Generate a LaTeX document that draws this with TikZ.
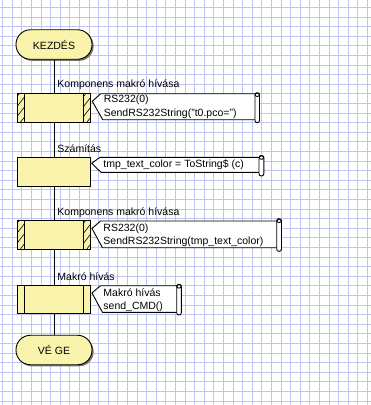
\documentclass[tikz,border=0pt]{standalone}
\usepackage{fontspec}
\setmainfont{Liberation Sans}
\usetikzlibrary{shadows}
\definecolor{gridblue}{RGB}{188,198,240}
\definecolor{boxyellow}{RGB}{250,243,172}
\tikzset{
  term/.style={draw,fill=boxyellow,rounded corners=14.5pt,minimum width=76pt,minimum height=29.5pt,inner sep=0pt,
    drop shadow={shadow xshift=1.6pt,shadow yshift=-1.6pt,fill=black!55,opacity=1}},
  proc/.style={draw,fill=boxyellow,minimum width=73.5pt,minimum height=28.5pt,inner sep=0pt},
  sidelines/.style={path picture={
      \draw ([xshift=7pt]path picture bounding box.north west) -- ([xshift=7pt]path picture bounding box.south west);
      \draw ([xshift=-7pt]path picture bounding box.north east) -- ([xshift=-7pt]path picture bounding box.south east);}},
  compmacro/.style={proc,sidelines,postaction={path picture={
      \begin{scope}[line width=0.6pt]
        \clip (path picture bounding box.south west) rectangle ([xshift=7pt]path picture bounding box.north west);
        \foreach \k in {0,...,3} \draw ([yshift=\k*10pt-4pt]path picture bounding box.south west) -- ++(7pt,9pt);
      \end{scope}
      \begin{scope}[line width=0.6pt]
        \clip (path picture bounding box.south east) rectangle ([xshift=-7pt]path picture bounding box.north east);
        \foreach \k in {0,...,3} \draw ([xshift=-7pt,yshift=\k*10pt-4pt]path picture bounding box.south east) -- ++(7pt,9pt);
      \end{scope}}}},
  lbl/.style={inner sep=0pt,anchor=base west},
  note/.style={inner sep=0pt,anchor=base west},
  bubble/.style={draw,fill=white},
  scrollend/.style={draw,fill=white,rounded corners=2.2pt}
}
\begin{document}
\begin{tikzpicture}[x=1pt,y=-1pt,font={\fontsize{10.5}{12}\selectfont},line width=0.9pt]
	%%Khung và lưới nền
	\useasboundingbox[fill=white] (0,0) rectangle (371,405);
	\foreach \k in {0,...,38}
		\draw[gridblue,line width=0.7pt] ({2.5+9.6*\k},0) -- ({2.5+9.6*\k},405);
	\foreach \k in {0,...,41}
		\draw[gridblue,line width=0.7pt] (0,{7.3+9.6*\k}) -- (371,{7.3+9.6*\k});
	%%Các khối
	\node[term] (start) at (54,44.5) {KEZDÉS};
	\node[compmacro] (komp1) at (54,108) {};
	\node[proc] (szam) at (54,171.7) {};
	\node[compmacro] (komp2) at (54,234.7) {};
	\node[proc,sidelines] (makro) at (54,299.5) {};
	\node[term] (vege) at (54,350) {VÉ GE};
	%%Đường nối
	\draw (start) -- (komp1);
	\draw (komp1) -- (szam);
	\draw (szam) -- (komp2);
	\draw (komp2) -- (makro);
	\draw (makro) -- (vege);
	%%Tên khối
	\node[lbl] (komp1l) at (57,87.4) {Komponens makró hívása};
	\node[lbl] (szaml) at (57,152.5) {Számítás};
	\node[lbl] (komp2l) at (57,215) {Komponens makró hívása};
	\node[lbl] (makrol) at (57,280.5) {Makró hívás};
	%%Chú thích
	\draw[bubble] (92.3,101.3) -- (100.7,93.7) -- (257,93.7) -- (257,119.7) -- (102.7,119.7) -- cycle;
	\draw[scrollend] (255,92.7) rectangle (259.5,122.7);
	\draw (257.25,94.8) ellipse (2.2pt and 1.7pt);
	\node[note] (komp1a) at (103.3,102.8) {RS232(0)};
	\node[note] (komp1b) at (103.3,116) {SendRS232String("t0.pco=")};
	\draw[bubble] (91.7,163.3) -- (100,157.3) -- (261,157.3) -- (261,172.3) -- (101,172.3) -- cycle;
	\draw[scrollend] (259,155.5) rectangle (263.8,176);
	\draw (261.4,157.6) ellipse (2.2pt and 1.7pt);
	\node[note] (szama) at (103,167.3) {tmp\_text\_color = ToString\$ (c)};
	\draw[bubble] (92,228.5) -- (100.5,221) -- (279,221) -- (279,247.7) -- (102.5,247.7) -- cycle;
	\draw[scrollend] (276.7,218.7) rectangle (281.5,251.3);
	\draw (279.1,220.8) ellipse (2.2pt and 1.7pt);
	\node[note] (komp2a) at (103,231.5) {RS232(0)};
	\node[note] (komp2b) at (103,244.5) {SendRS232String(tmp\_text\_color)};
	\draw[bubble] (92,293) -- (100.5,285.7) -- (179,285.7) -- (179,312.3) -- (102.5,312.3) -- cycle;
	\draw[scrollend] (176.7,284.3) rectangle (181.3,315);
	\draw (179,286.4) ellipse (2.2pt and 1.7pt);
	\node[note] (makroa) at (103,296.5) {Makró hívás};
	\node[note] (makrob) at (103,309.5) {send\_CMD()};
\end{tikzpicture}
\end{document}
